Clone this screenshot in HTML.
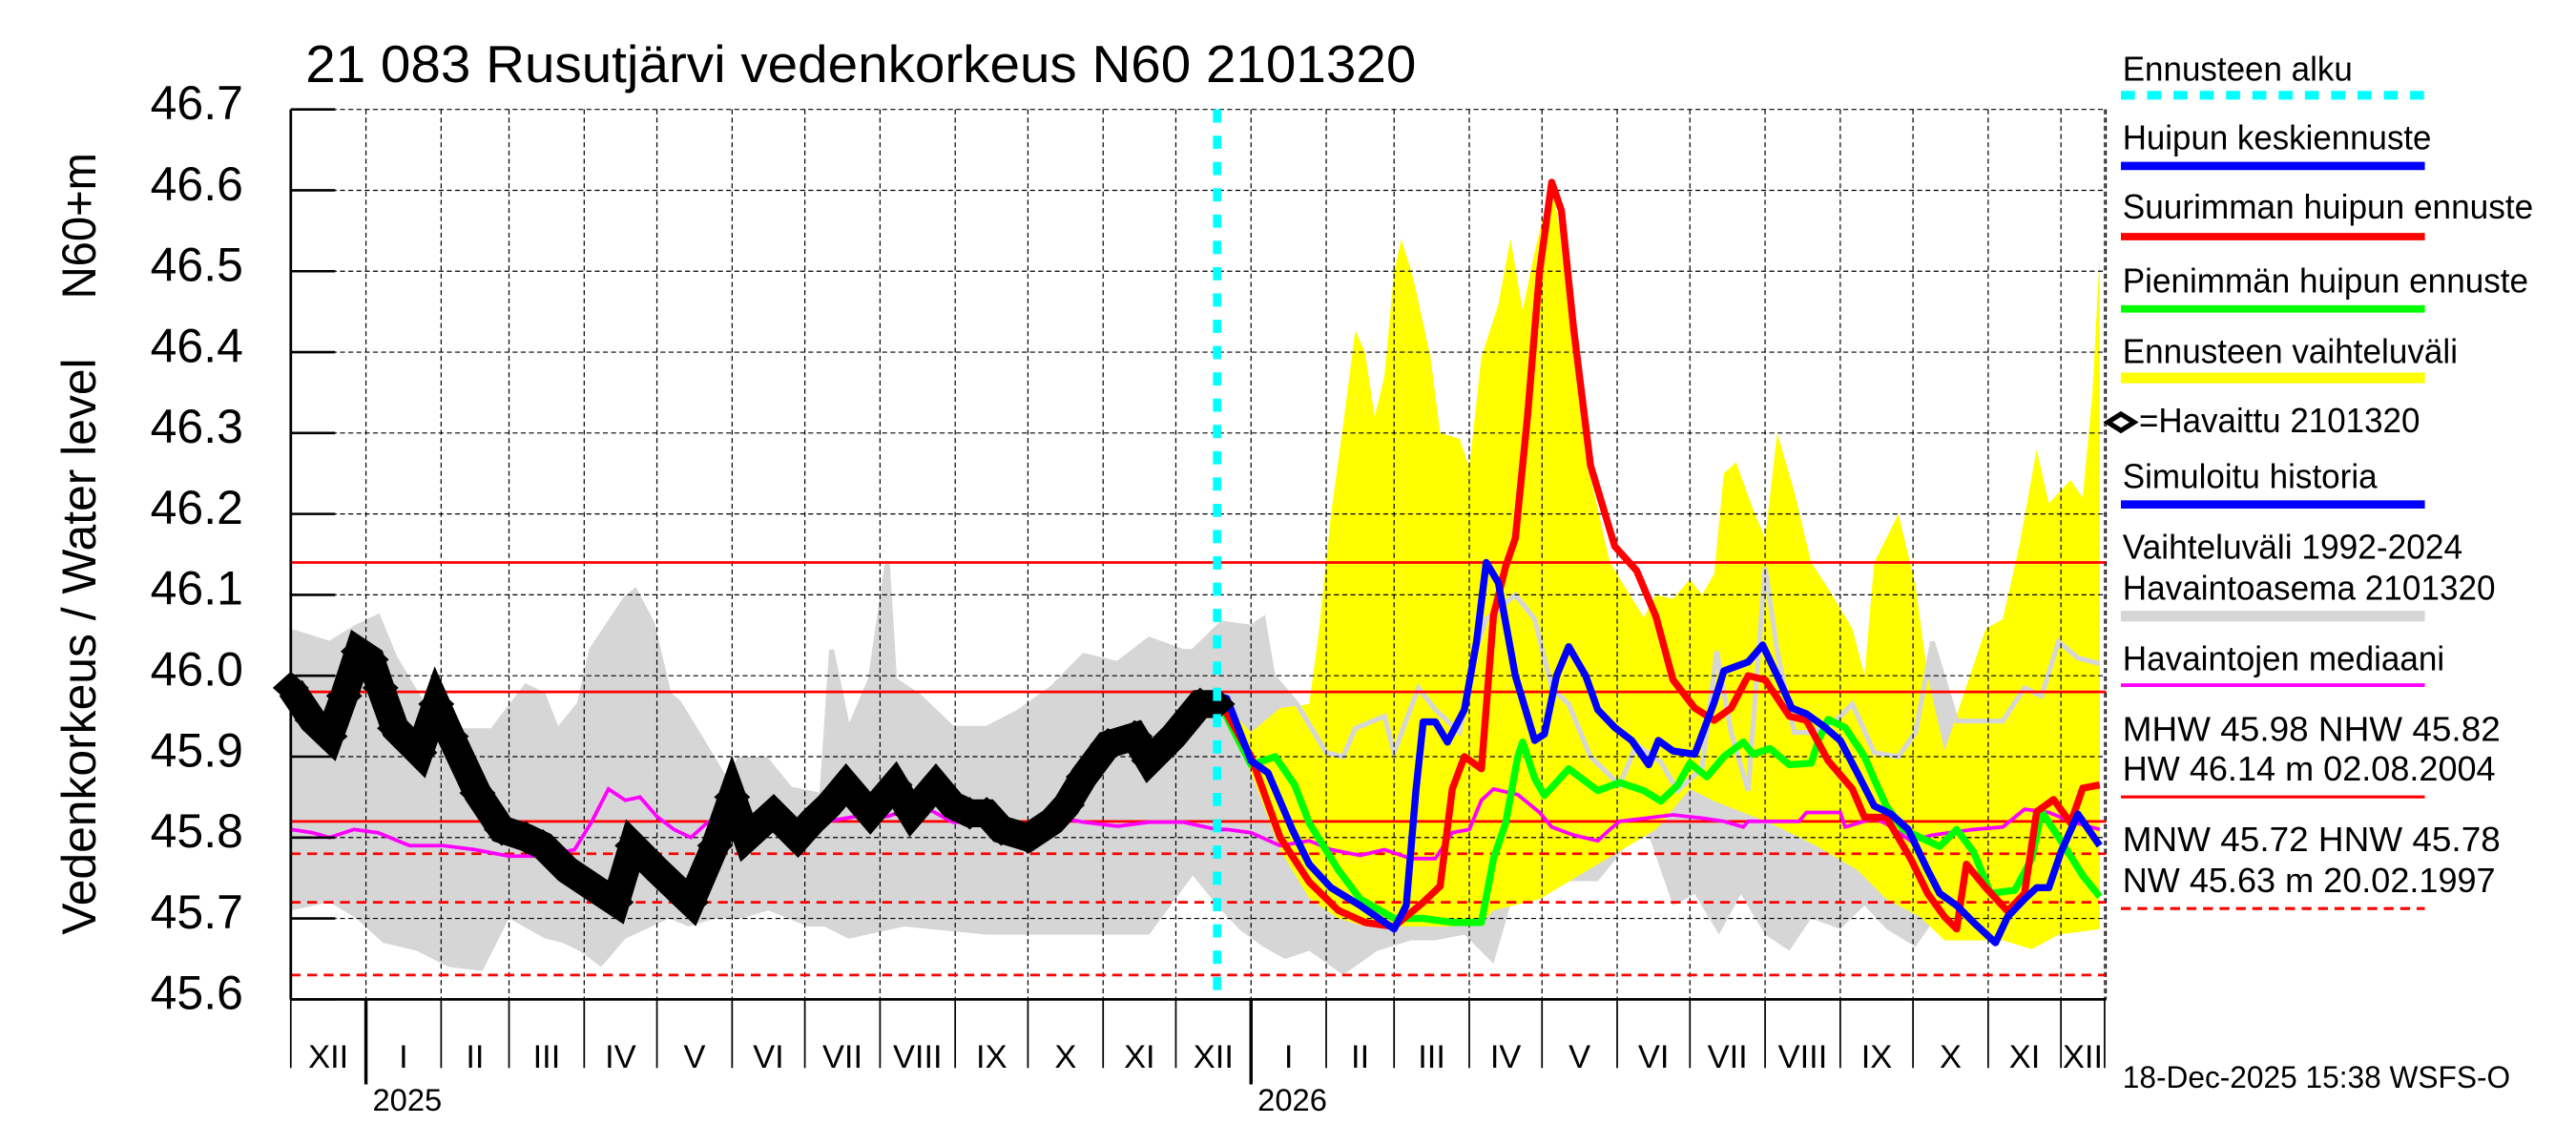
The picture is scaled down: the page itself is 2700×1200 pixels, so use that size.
<!DOCTYPE html>
<html><head><meta charset="utf-8"><style>
html,body{margin:0;padding:0;background:#fff;}
svg{display:block;font-family:"Liberation Sans",sans-serif;}
</style></head><body>
<svg id="chart" width="2700" height="1200" viewBox="0 0 1568 696.89" preserveAspectRatio="none" xmlns="http://www.w3.org/2000/svg">
<rect x="0" y="0" width="1568" height="697" fill="#fff"/>
<g id="fills"></g>
<g id="grid"></g>
<g id="series"></g>
<g id="axes"></g>
<text x="186" y="50" font-size="32" textLength="676" lengthAdjust="spacingAndGlyphs">21 083 Rusutjärvi vedenkorkeus N60 2101320</text>
<text transform="translate(58,569) rotate(-90)" font-size="29" textLength="351" lengthAdjust="spacingAndGlyphs">Vedenkorkeus / Water level</text>
<text transform="translate(58,182) rotate(-90)" font-size="29" textLength="89" lengthAdjust="spacingAndGlyphs">N60+m</text>
<g id="legend" font-size="21">
<text x="1292" y="49" textLength="140" lengthAdjust="spacingAndGlyphs">Ennusteen alku</text>
<line x1="1291" y1="58" x2="1476" y2="58" stroke="#00ffff" stroke-width="5.3" stroke-dasharray="8.5 7.5"/>
<text x="1292" y="91" textLength="188" lengthAdjust="spacingAndGlyphs">Huipun keskiennuste</text>
<line x1="1291" y1="101" x2="1476" y2="101" stroke="#0000ff" stroke-width="5"/>
<text x="1292" y="133" textLength="250" lengthAdjust="spacingAndGlyphs">Suurimman huipun ennuste</text>
<line x1="1291" y1="144" x2="1476" y2="144" stroke="#ff0000" stroke-width="4.5"/>
<text x="1292" y="178" textLength="247" lengthAdjust="spacingAndGlyphs">Pienimmän huipun ennuste</text>
<line x1="1291" y1="188" x2="1476" y2="188" stroke="#00ff00" stroke-width="4.5"/>
<text x="1292" y="221" textLength="204" lengthAdjust="spacingAndGlyphs">Ennusteen vaihteluväli</text>
<line x1="1291" y1="230" x2="1476" y2="230" stroke="#ffff00" stroke-width="6.5"/>
<path d="M1283 257 L1291 252 L1299 257 L1291 262 Z" fill="#fff" stroke="#000" stroke-width="3"/>
<text x="1302" y="263" textLength="171" lengthAdjust="spacingAndGlyphs">=Havaittu 2101320</text>
<text x="1292" y="297" textLength="155" lengthAdjust="spacingAndGlyphs">Simuloitu historia</text>
<line x1="1291" y1="307" x2="1476" y2="307" stroke="#0000ff" stroke-width="5"/>
<text x="1292" y="340" textLength="207" lengthAdjust="spacingAndGlyphs">Vaihteluväli 1992-2024</text>
<text x="1292" y="365" textLength="227" lengthAdjust="spacingAndGlyphs">Havaintoasema 2101320</text>
<line x1="1291" y1="375" x2="1476" y2="375" stroke="#d6d6d6" stroke-width="6.5"/>
<text x="1292" y="408" textLength="196" lengthAdjust="spacingAndGlyphs">Havaintojen mediaani</text>
<line x1="1291" y1="417" x2="1476" y2="417" stroke="#ff00ff" stroke-width="2.2"/>
<text x="1292" y="451" textLength="230" lengthAdjust="spacingAndGlyphs">MHW  45.98 NHW  45.82</text>
<text x="1292" y="475" textLength="227" lengthAdjust="spacingAndGlyphs">HW  46.14 m 02.08.2004</text>
<line x1="1291" y1="485" x2="1476" y2="485" stroke="#ff0000" stroke-width="1.8"/>
<text x="1292" y="518" textLength="230" lengthAdjust="spacingAndGlyphs">MNW  45.72 HNW  45.78</text>
<text x="1292" y="543" textLength="227" lengthAdjust="spacingAndGlyphs">NW  45.63 m 20.02.1997</text>
<line x1="1291" y1="553" x2="1476" y2="553" stroke="#ff0000" stroke-width="1.8" stroke-dasharray="6 4"/>
</g>
<text x="1292" y="662" font-size="19" textLength="236" lengthAdjust="spacingAndGlyphs">18-Dec-2025 15:38 WSFS-O</text>
</svg>
<script>
// ---- data (day index from 1 Dec 2024) ----
const yTicks = [45.6,45.7,45.8,45.9,46.0,46.1,46.2,46.3,46.4,46.5,46.6,46.7];
const yTickLabels = ["45.6","45.7","45.8","45.9","46.0","46.1","46.2","46.3","46.4","46.5","46.6","46.7"];
const monthStarts = [0,31,62,90,121,151,182,212,243,274,304,335,365,396,427,455,486,516,547,577,608,639,669,700,730,748];
const monthLabels = ["XII","I","II","III","IV","V","VI","VII","VIII","IX","X","XI","XII","I","II","III","IV","V","VI","VII","VIII","IX","X","XI","XII"];
const yearStarts = [31,396];
const yearLabels = ["2025","2026"];
const forecastStartDay = 382;
const refSolid = [46.14,45.98,45.82];
const refDashed = [45.78,45.72,45.63];

const obsDays = [0,9,16,22,28,33,37,43,53,60,66,77,87,97,104,114,124,134,141,151,165,175,182,188,199,209,215,222,229,239,249,256,266,273,280,287,293,304,314,320,327,337,348,354,364,375,382];
const obsVals = [45.985,45.945,45.925,45.975,46.03,46.02,45.985,45.935,45.905,45.965,45.925,45.855,45.81,45.80,45.79,45.76,45.74,45.72,45.79,45.76,45.72,45.79,45.85,45.80,45.83,45.80,45.82,45.84,45.865,45.83,45.865,45.83,45.865,45.84,45.83,45.83,45.81,45.80,45.82,45.84,45.875,45.915,45.925,45.895,45.925,45.965,45.965];

const medDays = [0,9,16,26,36,49,63,76,90,104,117,124,131,138,144,151,158,165,172,178,185,192,206,219,233,246,260,273,287,300,314,327,341,354,368,382,386,396,408,420,429,441,451,462,472,479,486,491,496,506,515,520,529,539,544,548,570,582,591,599,601,622,625,639,641,653,658,668,677,694,706,715,725,734,746];
const medVals = [45.81,45.806,45.80,45.81,45.806,45.79,45.79,45.785,45.777,45.777,45.785,45.819,45.86,45.846,45.85,45.826,45.81,45.80,45.819,45.819,45.826,45.826,45.819,45.819,45.826,45.826,45.84,45.819,45.819,45.806,45.826,45.819,45.814,45.819,45.819,45.81,
45.81,45.806,45.79,45.796,45.785,45.778,45.785,45.774,45.774,45.806,45.81,45.846,45.86,45.853,45.831,45.813,45.803,45.796,45.81,45.82,45.828,45.824,45.82,45.813,45.82,45.82,45.831,45.831,45.813,45.824,45.817,45.796,45.803,45.81,45.813,45.835,45.831,45.82,45.81];

const maxDays = [382,396,408,420,432,443,455,467,474,479,484,491,496,501,505,510,515,520,524,529,536,546,555,563,570,579,587,594,601,608,618,625,634,644,649,658,668,675,682,687,691,699,708,715,720,727,734,739,746];
const maxVals = [45.975,45.90,45.80,45.745,45.71,45.695,45.69,45.72,45.74,45.86,45.90,45.885,46.075,46.135,46.17,46.32,46.50,46.61,46.575,46.43,46.26,46.16,46.13,46.073,45.995,45.96,45.945,45.96,46.00,45.995,45.95,45.945,45.895,45.86,45.825,45.825,45.774,45.731,45.702,45.687,45.767,45.738,45.709,45.731,45.832,45.847,45.818,45.861,45.865];

const meanDays = [382,386,396,403,413,420,429,441,455,460,464,467,472,477,484,489,493,498,505,513,517,522,527,534,539,546,553,560,564,570,579,587,591,601,607,613,619,625,632,639,646,653,660,667,675,680,687,694,703,708,715,720,725,730,737,746];
const meanVals = [45.975,45.972,45.895,45.88,45.81,45.767,45.738,45.716,45.687,45.716,45.858,45.943,45.943,45.918,45.958,46.042,46.14,46.115,46.0,45.92,45.928,46.0,46.036,46.0,45.958,45.936,45.92,45.89,45.92,45.907,45.903,45.967,46.006,46.017,46.038,46.0,45.96,45.953,45.938,45.92,45.88,45.839,45.829,45.81,45.76,45.731,45.716,45.695,45.67,45.702,45.724,45.738,45.738,45.782,45.829,45.79];

const minDays = [382,396,406,414,420,432,441,455,467,479,491,496,501,506,508,513,517,527,539,548,558,565,572,577,584,591,599,603,610,618,627,630,634,641,649,653,658,665,672,680,687,694,701,711,718,722,730,739,746];
const minVals = [45.972,45.89,45.9,45.865,45.818,45.76,45.724,45.70,45.70,45.695,45.695,45.774,45.818,45.90,45.918,45.873,45.852,45.885,45.858,45.868,45.858,45.845,45.865,45.892,45.875,45.90,45.918,45.903,45.91,45.89,45.892,45.92,45.946,45.936,45.90,45.872,45.839,45.81,45.80,45.789,45.81,45.782,45.731,45.735,45.774,45.832,45.796,45.753,45.727];

const fcUpDays = [382,396,408,420,424,429,434,439,443,447,451,455,458,463,470,474,482,486,491,498,503,508,513,520,527,534,544,558,563,570,577,582,587,591,596,603,608,613,620,627,634,644,649,653,663,670,675,682,699,706,713,720,725,734,739,743,746];
const fcUpVals = [45.975,45.93,45.96,45.965,46.055,46.2,46.31,46.427,46.40,46.32,46.37,46.50,46.54,46.49,46.394,46.30,46.293,46.257,46.394,46.459,46.54,46.452,46.524,46.61,46.49,46.271,46.14,46.072,46.10,46.095,46.119,46.10,46.126,46.25,46.264,46.206,46.17,46.30,46.228,46.14,46.108,46.058,46.0,46.14,46.2,46.112,46.0,45.907,46.058,46.07,46.163,46.28,46.213,46.242,46.22,46.35,46.52];
const fcLoDays = [382,396,408,420,432,443,455,467,479,491,496,515,539,563,577,587,610,629,646,658,672,682,706,718,729,746];
const fcLoVals = [45.965,45.88,45.785,45.725,45.70,45.69,45.69,45.69,45.69,45.695,45.71,45.724,45.767,45.81,45.86,45.845,45.818,45.79,45.76,45.724,45.702,45.673,45.673,45.662,45.68,45.687];

const histUpDays = [0,16,27,36,43,61,83,97,104,110,119,124,138,142,149,156,160,169,180,185,196,206,219,223,230,239,246,249,259,273,287,300,314,327,341,354,368,372,384,396,401,405,415,427,434,439,451,455,465,472,482,489,493,505,513,520,527,536,548,555,565,572,582,588,594,601,608,613,620,627,637,644,653,663,670,677,687,696,706,715,722,729,737,746];
const histUpVals = [46.055,46.04,46.06,46.073,46.022,45.932,45.932,45.987,45.977,45.932,45.965,46.032,46.095,46.105,46.065,45.977,45.967,45.923,45.868,45.897,45.897,45.86,45.852,46.032,45.932,45.995,46.14,45.995,45.975,45.935,45.935,45.955,45.985,46.025,46.015,46.045,46.03,46.03,46.065,46.06,46.07,46.0,45.965,45.905,45.9,45.935,45.95,45.905,45.985,45.958,45.93,46.035,46.07,46.1,46.07,45.985,45.965,45.9,45.865,45.915,45.893,45.858,45.886,46.03,45.93,45.858,46.134,46.03,45.93,45.93,45.944,45.965,45.905,45.9,45.93,46.042,45.944,45.944,45.944,45.985,45.975,46.042,46.022,46.015];
const histLoDays = [0,16,27,38,52,65,79,90,105,112,119,128,138,156,164,175,186,197,205,213,220,230,253,287,320,354,372,382,391,401,410,420,434,448,462,472,484,496,505,515,524,539,551,560,570,579,589,598,608,618,627,639,649,658,670,682,694,706,720,734,746];
const histLoVals = [45.71,45.72,45.70,45.67,45.66,45.64,45.635,45.70,45.675,45.67,45.66,45.64,45.675,45.70,45.69,45.70,45.70,45.71,45.70,45.69,45.69,45.675,45.69,45.68,45.68,45.68,45.753,45.716,45.687,45.665,45.65,45.66,45.63,45.66,45.673,45.673,45.68,45.644,45.738,45.753,45.746,45.746,45.79,45.803,45.716,45.73,45.68,45.73,45.68,45.66,45.70,45.687,45.716,45.687,45.665,45.716,45.716,45.71,45.724,45.73,45.73];

// ---- axes ----
const X0 = 177, X1 = 1282, PXD = 1.476;
const Y_TOP = 66.6, PXV = 492.4, VMAX = 46.7, VMIN = 45.6;
function X(d){ return X0 + d * PXD; }
function Y(v){ return Y_TOP + (VMAX - v) * PXV; }
const Y_BOT = Y(VMIN);
const NS = "http://www.w3.org/2000/svg";
function mk(tag, parent, attrs){
  const el = document.createElementNS(NS, tag);
  for (const k in attrs) el.setAttribute(k, attrs[k]);
  parent.appendChild(el);
  return el;
}
function linePath(days, vals){
  const n = Math.min(days.length, vals.length);
  let s = "";
  for (let i = 0; i < n; i++) s += (i ? "L" : "M") + X(days[i]).toFixed(2) + " " + Y(vals[i]).toFixed(2);
  return s;
}
function bandPath(ud, uv, ld, lv){
  let s = linePath(ud, uv);
  const n = Math.min(ld.length, lv.length);
  for (let i = n - 1; i >= 0; i--) s += "L" + X(ld[i]).toFixed(2) + " " + Y(lv[i]).toFixed(2);
  return s + "Z";
}
const fills = document.getElementById("fills");
const grid = document.getElementById("grid");
const series = document.getElementById("series");
const axes = document.getElementById("axes");

// bands
const histBand = mk("path", fills, {d: bandPath(histUpDays, histUpVals, histLoDays, histLoVals), fill: "#d6d6d6"});


const fcBand = mk("path", fills, {d: bandPath(fcUpDays, fcUpVals, fcLoDays, fcLoVals), fill: "#ffff00"});


const histUpLine = mk("path", fills, {d: linePath(histUpDays, histUpVals), fill: "none", stroke: "#d6d6d6", "stroke-width": 3});



// grid
yTicks.forEach((v, i) => {
  const g = mk("line", grid, {x1: X0, x2: X1, y1: Y(v), y2: Y(v), stroke: "#000", "stroke-width": 0.7, "stroke-dasharray": "3 2"});
  
  
  const t = mk("line", axes, {x1: X0, x2: X0 + 27, y1: Y(v), y2: Y(v), stroke: "#000", "stroke-width": 1.5});
  
  
  const lb = mk("text", axes, {x: 148, y: Y(v) + 6, "font-size": 29, "text-anchor": "end"});
  lb.textContent = yTickLabels[i];
  
  
});
monthStarts.forEach((d, i) => {
  const g = mk("line", grid, {x1: X(d), x2: X(d), y1: Y_TOP, y2: Y_BOT, stroke: "#000", "stroke-width": 0.7, "stroke-dasharray": "3 2"});
  
  
  const isYear = yearStarts.indexOf(d) >= 0;
  const t = mk("line", axes, {x1: X(d), x2: X(d), y1: Y_BOT, y2: isYear ? 660 : 650, stroke: "#000", "stroke-width": isYear ? 2 : 1});
  
  
  if (i < monthLabels.length) {
    const mid = (d + monthStarts[i + 1]) / 2;
    const lb = mk("text", axes, {x: X(mid), y: 650, "font-size": 20, "text-anchor": "middle"});
    lb.textContent = monthLabels[i];
    
    
  }
});
yearStarts.forEach((d, i) => {
  const lb = mk("text", axes, {x: X(d) + 4, y: 676, "font-size": 19});
  lb.textContent = yearLabels[i];
  
  
});
refSolid.forEach(v => {
  const l = mk("line", grid, {x1: X0, x2: X1, y1: Y(v), y2: Y(v), stroke: "#ff0000", "stroke-width": 1.6});
  
  
});
refDashed.forEach(v => {
  const l = mk("line", grid, {x1: X0, x2: X1, y1: Y(v), y2: Y(v), stroke: "#ff0000", "stroke-width": 1.6, "stroke-dasharray": "6 4"});
  
  
});

// series
const med = mk("path", series, {d: linePath(medDays, medVals), fill: "none", stroke: "#ff00ff", "stroke-width": 2.2});


const minL = mk("path", series, {d: linePath(minDays, minVals), fill: "none", stroke: "#00ff00", "stroke-width": 4.3, "stroke-linejoin": "round"});


const maxL = mk("path", series, {d: linePath(maxDays, maxVals), fill: "none", stroke: "#ff0000", "stroke-width": 4.3, "stroke-linejoin": "round"});


const meanL = mk("path", series, {d: linePath(meanDays, meanVals), fill: "none", stroke: "#0000ff", "stroke-width": 4.3, "stroke-linejoin": "round"});


const obsL = mk("path", series, {d: linePath(obsDays, obsVals), fill: "none", stroke: "#000", "stroke-width": 17, "stroke-linejoin": "miter"});


obsDays.forEach((d, i) => {
  const cx = X(d), cy = Y(obsVals[i]);
  const m = mk("path", series, {d: `M${cx-11} ${cy}L${cx} ${cy-10}L${cx+11} ${cy}L${cx} ${cy+10}Z`, fill: "#000"});
  
  
});
const fs = mk("line", series, {x1: X(forecastStartDay), x2: X(forecastStartDay), y1: Y_TOP, y2: Y_BOT, stroke: "#00ffff", "stroke-width": 5, "stroke-dasharray": "8 8"});



// frame
const la = mk("line", axes, {x1: X0, x2: X0, y1: Y_TOP, y2: Y_BOT, stroke: "#000", "stroke-width": 1.6});


const ba = mk("line", axes, {x1: X0, x2: X1, y1: Y_BOT, y2: Y_BOT, stroke: "#000", "stroke-width": 1.6});


const ra = mk("line", axes, {x1: X1, x2: X1, y1: Y_TOP, y2: Y_BOT, stroke: "#000", "stroke-width": 0.7, "stroke-dasharray": "3 2"});


</script>
</body></html>
